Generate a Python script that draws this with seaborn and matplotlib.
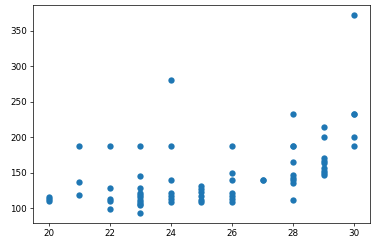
import matplotlib
matplotlib.use("Agg")
import matplotlib.pyplot as plt
import seaborn as sns
import pandas as pd

x20 = [110, 113, 116]
x21 = [187, 137, 119]
x22 = [187, 129, 113, 110, 99]
x23 = [187, 145, 129, 121, 118, 115, 112, 109, 106, 104, 93]
x24 = [280, 187, 140, 121, 117, 113, 109]
x25 = [131, 127, 122, 117, 112, 109]
x26 = [187, 149, 140, 121, 117, 113, 109]
x27 = [140, 140]
x28 = [233, 187, 187, 165, 147, 143, 139, 135, 111]
x29 = [215, 200, 171, 167, 164, 157, 153, 149, 146]
x30 = [372, 233, 233, 200, 187]

groups = {20: x20, 21: x21, 22: x22, 23: x23, 24: x24, 25: x25,
          26: x26, 27: x27, 28: x28, 29: x29, 30: x30}
xs, ys = [], []
for k, vals in groups.items():
    for v in vals:
        xs.append(k)
        ys.append(v)
df = pd.DataFrame({"x": xs, "y": ys})

fig = plt.figure(figsize=(6, 3.89), dpi=63)
ax = fig.add_axes([0.088, 0.09, 0.89, 0.888])
sns.scatterplot(data=df, x="x", y="y", ax=ax, s=52, color="#1f77b4",
                linewidth=0, alpha=1)
ax.set_xlabel("")
ax.set_ylabel("")
ax.set_xticks([20, 22, 24, 26, 28, 30])
ax.set_yticks([100, 150, 200, 250, 300, 350])
ax.tick_params(labelsize=10)
fig.savefig("out.png", dpi=63)
